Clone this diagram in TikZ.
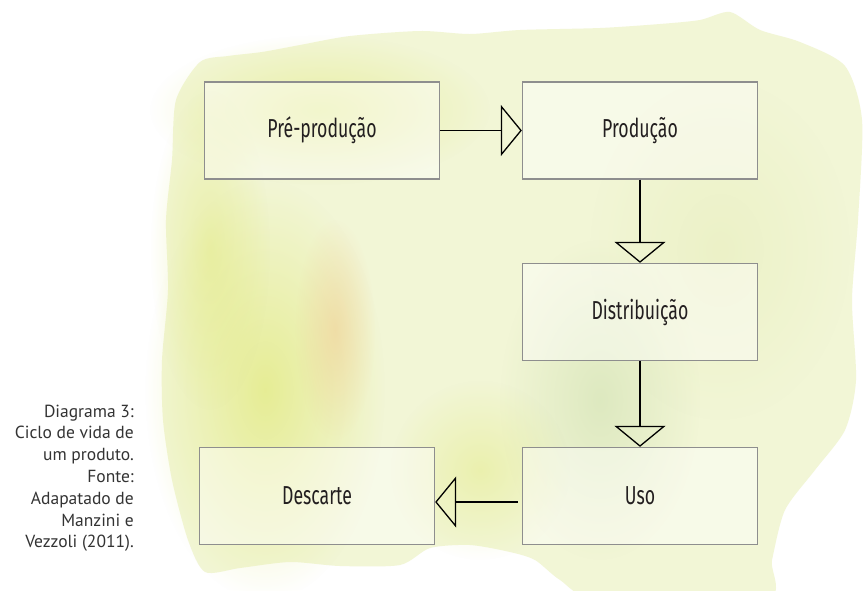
\documentclass[tikz,border=0pt]{standalone}
\usepackage{fontspec}
\setmainfont{PT Sans}
\newfontfamily\boxfont[FakeStretch=0.68]{Fira Sans}
\usetikzlibrary{arrows.meta,fadings}

\definecolor{wash}{HTML}{F2F6D6}
\definecolor{washyellow}{HTML}{E0E872}
\definecolor{washorange}{HTML}{F2C98F}
\definecolor{washgreen}{HTML}{C9DCAA}
\definecolor{washlime}{HTML}{E6EDB8}
\definecolor{boxline}{HTML}{8E8E8E}
\definecolor{ink}{HTML}{231F20}
\definecolor{captext}{HTML}{333333}

\tikzfading[name=softblob, inner color=transparent!0, outer color=transparent!100]

\tikzset{
  box/.style={draw=boxline, line width=1.3pt, fill=white, fill opacity=0.45, text opacity=1,
    minimum width=235pt, minimum height=97pt, inner sep=0pt, text=ink,
    font=\boxfont\fontsize{26}{31}\selectfont},
  flow/.style={draw=black, line width=1.3pt, -{Triangle[open, length=21pt, width=51pt]}},
  caption/.style={align=right, inner sep=0pt, text=captext, font=\fontsize{17.5}{21.8}\selectfont},
  blob/.style={path fading=softblob},
}

\begin{document}
\begin{tikzpicture}[x=1pt, y=-1pt]
    \useasboundingbox (0,0) rectangle (867,590);
    \fill[white] (0,0) rectangle (867,590);

    % watercolour wash
    \fill[wash] plot[smooth cycle, tension=0.45] coordinates {
        (176,100) (200,62) (228,56) (262,52) (300,45) (350,36) (420,31) (470,34)
        (520,30) (600,28) (660,24) (700,20) (730,12) (760,30) (800,42) (845,66)
        (862,120) (858,220) (852,300) (856,380) (845,430) (815,470) (785,510)
        (772,560) (765,600) (600,600) (560,580) (535,560) (510,552) (470,545)
        (430,548) (400,565) (340,566) (290,562) (240,568) (205,572) (188,540)
        (172,480) (163,420) (162,360) (168,290) (166,220) (172,160)};
    \fill[washyellow, opacity=0.65, blob] (265,390) ellipse [x radius=120pt, y radius=210pt];
    \fill[washyellow, opacity=0.5, blob] (320,110) ellipse [x radius=170pt, y radius=75pt];
    \fill[washyellow, opacity=0.45, blob] (210,250) ellipse [x radius=60pt, y radius=160pt];
    \fill[washorange, opacity=0.5, blob] (335,330) ellipse [x radius=40pt, y radius=110pt];
    \fill[washgreen, opacity=0.5, blob] (600,400) ellipse [x radius=100pt, y radius=160pt];
    \fill[washlime, opacity=0.5, blob] (720,250) ellipse [x radius=130pt, y radius=170pt];
    \fill[washyellow, opacity=0.4, blob] (480,470) ellipse [x radius=90pt, y radius=90pt];

    % boxes
    \node[box] (pre) at (322,130.5) {Pré-produção};
    \node[box] (prod) at (640,130.5) {Produção};
    \node[box] (dist) at (640,312) {Distribuição};
    \node[box] (uso) at (640,496) {Uso};
    \node[box] (desc) at (317,496) {Descarte};

    % arrows
    \draw[flow] (pre) -- (prod);
    \draw[flow] (prod) -- (dist);
    \draw[flow] (dist) -- (uso);
    \draw[flow, shorten <=4pt] ([yshift=-6pt]uso.west) -- ([yshift=-6pt]desc.east);

    % caption
    \node[caption, anchor=north east] (legend) at (134,404.5)
        {Diagrama 3:\\Ciclo de vida de\\um produto.\\Fonte:\\Adapatado de\\Manzini e\\Vezzoli (2011).};
\end{tikzpicture}
\end{document}
